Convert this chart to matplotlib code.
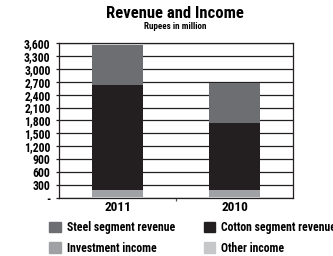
import matplotlib
matplotlib.use("Agg")
from matplotlib import pyplot as plt
from matplotlib.patches import Patch
from matplotlib.ticker import FuncFormatter

plt.rcParams['font.family'] = ['Roboto Condensed', 'Archivo Narrow', 'Barlow Semi Condensed', 'DejaVu Sans']
plt.rcParams['font.weight'] = 'bold'

years = ['2011', '2010']
other_income = [30, 20]
investment_income = [156, 166]
cotton_revenue = [2439, 1556]
steel_revenue = [928, 936]

series = [
    ('Other income', other_income, '#c6c7c9'),
    ('Investment income', investment_income, '#a0a1a4'),
    ('Cotton segment revenue', cotton_revenue, '#231f20'),
    ('Steel segment revenue', steel_revenue, '#6d6e71'),
]
y_ticks = list(range(0, 3601, 300))

fig = plt.figure(figsize=(3.33, 2.56), dpi=100)
ax = fig.add_axes([0.177, 0.227, 0.703, 0.605])

x = range(len(years))
bottom = [0, 0]
for name, vals, col in series:
    ax.bar(x, vals, 0.43, bottom=bottom, color=col, zorder=3, label=name)
    bottom = [b + v for b, v in zip(bottom, vals)]

ax.set_xlim(-0.5, 1.5)
ax.set_ylim(0, 3600)
ax.set_yticks(y_ticks)
ax.yaxis.set_major_formatter(FuncFormatter(lambda v, p: '-' if v == 0 else f'{int(v):,}'))
ax.grid(axis='y', color='#231f20', lw=0.9, zorder=0)
for s in ax.spines.values():
    s.set_color('#231f20')
    s.set_linewidth(0.9)
ax.tick_params(axis='y', length=2, width=0.9, color='#231f20', labelsize=8.5, pad=4)
ax.set_xticks([0.5], minor=True)
ax.tick_params(axis='x', which='minor', length=2, width=0.9, color='#555555')
ax.set_xticks(list(x))
ax.set_xticklabels(years)
ax.tick_params(axis='x', which='major', length=0, labelsize=9.5, pad=2)

fig.text(0.525, 0.930, 'Revenue and Income', ha='center', va='baseline', fontsize=12, weight='bold')
fig.text(0.525, 0.887, 'Rupees in million', ha='center', va='baseline', fontsize=6.5, weight='bold')

handles = [Patch(color=c, label=n) for n, _, c in series]
order = [3, 1, 2, 0]
fig.legend([handles[i] for i in order], [series[i][0] for i in order],
           ncol=2, loc='upper left', bbox_to_anchor=(0.148, 0.137),
           frameon=False, fontsize=8.5, handlelength=1.0, handleheight=1.0,
           handletextpad=0.5, columnspacing=2.4, labelspacing=0.65,
           borderaxespad=0, borderpad=0)

fig.savefig('out.png', dpi=100)
